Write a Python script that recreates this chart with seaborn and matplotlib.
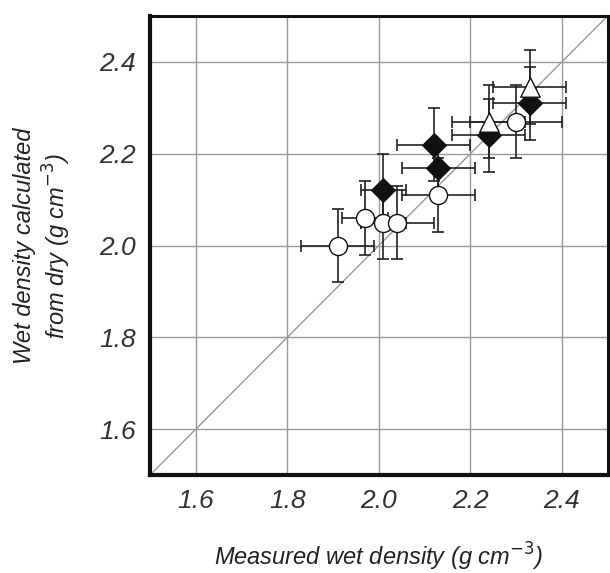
import matplotlib
matplotlib.use("Agg")
import matplotlib.pyplot as plt
import seaborn as sns
import pandas as pd

# open circles
circ_x = [1.91, 1.97, 2.01, 2.04, 2.13, 2.30]
circ_y = [2.00, 2.06, 2.05, 2.05, 2.11, 2.27]
circ_xerr = [0.08, 0.05, 0.05, 0.08, 0.08, 0.10]
circ_yerr = [0.08, 0.08, 0.08, 0.08, 0.08, 0.08]
# filled diamonds
diam_x = [2.01, 2.12, 2.13, 2.24, 2.33]
diam_y = [2.12, 2.22, 2.17, 2.24, 2.31]
diam_xerr = [0.05, 0.08, 0.08, 0.08, 0.08]
diam_yerr = [0.08, 0.08, 0.05, 0.08, 0.08]
# open triangles
tri_x = [2.24, 2.33]
tri_y = [2.27, 2.345]
tri_xerr = [0.08, 0.08]
tri_yerr = [0.08, 0.08]

sns.set_theme(style="white")
plt.rcParams["font.family"] = ["Liberation Sans", "DejaVu Sans"]
plt.rcParams["mathtext.default"] = "it"

fig = plt.figure(figsize=(6.1, 5.73), dpi=100)
ax = fig.add_axes([0.246, 0.171, 0.75, 0.801])

ax.plot([1.5, 2.5], [1.5, 2.5], color="#999999", lw=1, zorder=1)

groups = [
    (circ_x, circ_y, circ_xerr, circ_yerr, "o", "white", 13),
    (diam_x, diam_y, diam_xerr, diam_yerr, "D", "#111111", 12),
    (tri_x, tri_y, tri_xerr, tri_yerr, "^", "white", 14),
]
for gx, gy, ex, ey, m, fc, ms in groups:
    ax.errorbar(gx, gy, xerr=ex, yerr=ey, fmt="none", ecolor="#222222",
                elinewidth=1.2, capsize=4, capthick=1.2, zorder=2)
    df = pd.DataFrame({"x": gx, "y": gy})
    sns.scatterplot(data=df, x="x", y="y", marker=m, s=ms ** 2, color=fc,
                    edgecolor="#111111", linewidth=1, ax=ax, zorder=3)

ax.set_xlim(1.5, 2.5)
ax.set_ylim(1.5, 2.5)
ax.set_xticks([1.6, 1.8, 2.0, 2.2, 2.4])
ax.set_yticks([1.6, 1.8, 2.0, 2.2, 2.4])
ax.grid(True, color="#999999", lw=1)
ax.set_axisbelow(True)
ax.tick_params(length=0, labelsize=19, pad=10, labelcolor="#333333")
for lab in ax.get_xticklabels() + ax.get_yticklabels():
    lab.set_style("italic")
for name, s in ax.spines.items():
    s.set_color("#111111")
    s.set_linewidth(3 if name in ("left", "bottom") else 2.2)

ax.set_xlabel("Measured wet density (g cm$^{-3}$)", fontsize=17,
              style="italic", labelpad=20, color="#222222")
ax.set_ylabel("Wet density calculated\nfrom dry (g cm$^{-3}$)", fontsize=17,
              style="italic", labelpad=19, color="#222222")

fig.savefig("out.png", dpi=100)
